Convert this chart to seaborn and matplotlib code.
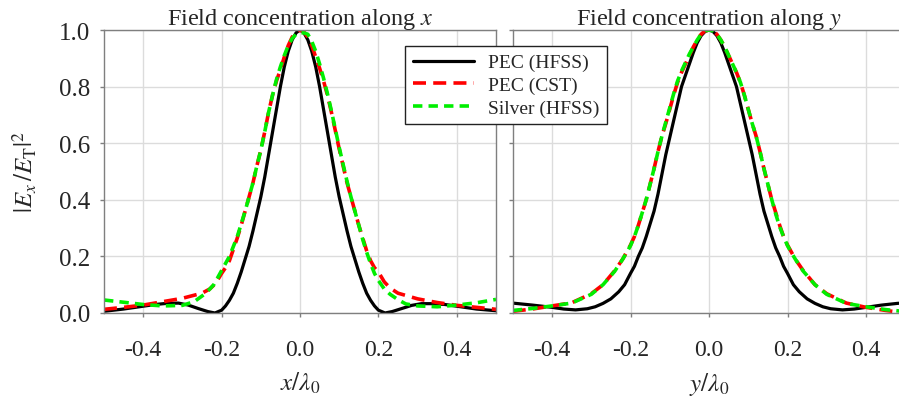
import numpy as np
import pandas as pd
import seaborn as sns
import matplotlib
matplotlib.use("Agg")
import matplotlib.pyplot as plt
from matplotlib.ticker import FormatStrFormatter

# ---------------- data ----------------
# Panel 1: along x
x_pec_hfss = [-0.5, -0.45, -0.4, -0.37, -0.34, -0.31, -0.285, -0.26, -0.235, -0.217, -0.2,
              -0.19, -0.18, -0.17, -0.16, -0.15, -0.14, -0.13, -0.12, -0.11, -0.1, -0.09,
              -0.08, -0.07, -0.06, -0.05, -0.04, -0.03, -0.02, -0.01, 0.0,
              0.01, 0.02, 0.03, 0.04, 0.05, 0.06, 0.07, 0.08, 0.09, 0.1, 0.11, 0.12,
              0.13, 0.14, 0.15, 0.16, 0.17, 0.18, 0.19, 0.2, 0.217, 0.235, 0.26, 0.285,
              0.31, 0.34, 0.37, 0.4, 0.45, 0.5]
v_pec_hfss_x = [0.006, 0.014, 0.024, 0.03, 0.034, 0.035, 0.028, 0.016, 0.005, 0.0, 0.01,
                0.025, 0.045, 0.07, 0.105, 0.145, 0.19, 0.235, 0.29, 0.35, 0.41, 0.48,
                0.56, 0.64, 0.72, 0.8, 0.87, 0.925, 0.965, 0.99, 1.0,
                0.99, 0.965, 0.925, 0.87, 0.8, 0.72, 0.64, 0.56, 0.48, 0.41, 0.35, 0.29,
                0.235, 0.19, 0.145, 0.105, 0.07, 0.045, 0.025, 0.01, 0.0, 0.005, 0.016, 0.027,
                0.033, 0.033, 0.03, 0.024, 0.014, 0.008]

x_pec_cst = [-0.5, -0.45, -0.4, -0.35, -0.3, -0.25, -0.23, -0.215, -0.2, -0.19, -0.18, -0.17,
             -0.16, -0.15, -0.14, -0.13, -0.12, -0.11, -0.1, -0.09, -0.08, -0.07, -0.06,
             -0.05, -0.04, -0.03, -0.02, -0.01, 0.0, 0.01, 0.02, 0.03, 0.04, 0.05, 0.06,
             0.07, 0.08, 0.09, 0.1, 0.11, 0.12, 0.13, 0.14, 0.15, 0.16, 0.17, 0.18, 0.19,
             0.2, 0.215, 0.23, 0.25, 0.3, 0.35, 0.4, 0.45, 0.5]
v_pec_cst_x = [0.013, 0.02, 0.028, 0.04, 0.052, 0.07, 0.085, 0.105, 0.14, 0.16, 0.185, 0.225,
               0.265, 0.31, 0.36, 0.41, 0.46, 0.52, 0.575, 0.64, 0.71, 0.77, 0.82,
               0.86, 0.905, 0.945, 0.975, 0.993, 1.0, 0.993, 0.975, 0.945, 0.905, 0.865, 0.82,
               0.77, 0.71, 0.645, 0.58, 0.52, 0.46, 0.41, 0.36, 0.31, 0.265, 0.22, 0.185, 0.16,
               0.145, 0.11, 0.088, 0.07, 0.05, 0.037, 0.027, 0.02, 0.013]

x_silver = [-0.5, -0.45, -0.4, -0.35, -0.3, -0.27, -0.24, -0.22, -0.2, -0.19, -0.18, -0.17,
            -0.16, -0.15, -0.14, -0.13, -0.12, -0.11, -0.1, -0.09, -0.08, -0.07, -0.06,
            -0.05, -0.04, -0.03, -0.02, -0.01, 0.0, 0.01, 0.02, 0.03, 0.04, 0.05, 0.06,
            0.07, 0.08, 0.09, 0.1, 0.11, 0.12, 0.13, 0.14, 0.15, 0.16, 0.17, 0.18, 0.19,
            0.2, 0.215, 0.23, 0.25, 0.27, 0.3, 0.35, 0.4, 0.45, 0.5]
v_silver_x = [0.046, 0.038, 0.03, 0.025, 0.027, 0.04, 0.07, 0.1, 0.15, 0.175, 0.2, 0.235,
              0.27, 0.315, 0.36, 0.41, 0.46, 0.52, 0.575, 0.64, 0.71, 0.77, 0.825,
              0.87, 0.91, 0.945, 0.97, 0.985, 0.99, 0.99, 0.985, 0.96, 0.925, 0.88, 0.83,
              0.775, 0.715, 0.65, 0.585, 0.525, 0.465, 0.41, 0.36, 0.31, 0.26, 0.215, 0.175, 0.14,
              0.115, 0.085, 0.066, 0.047, 0.032, 0.025, 0.022, 0.028, 0.036, 0.048]

# Panel 2: along y
y_pec_hfss = [-0.5, -0.45, -0.4, -0.37, -0.34, -0.31, -0.29, -0.27, -0.25, -0.23, -0.215,
              -0.2, -0.19, -0.18, -0.17, -0.16, -0.15, -0.14, -0.13, -0.12, -0.11, -0.1,
              -0.09, -0.08, -0.07, -0.06, -0.05, -0.04, -0.03, -0.02, -0.01, 0.0,
              0.01, 0.02, 0.03, 0.04, 0.05, 0.06, 0.07, 0.08, 0.09, 0.1, 0.11, 0.12,
              0.13, 0.14, 0.15, 0.16, 0.17, 0.18, 0.19, 0.2, 0.215, 0.23, 0.25, 0.27,
              0.29, 0.31, 0.34, 0.37, 0.4, 0.44, 0.48, 0.5]
v_pec_hfss_y = [0.035, 0.028, 0.02, 0.014, 0.011, 0.015, 0.022, 0.034, 0.05, 0.075, 0.1,
                0.14, 0.165, 0.2, 0.23, 0.27, 0.315, 0.36, 0.42, 0.49, 0.56, 0.62,
                0.68, 0.74, 0.8, 0.84, 0.88, 0.92, 0.955, 0.98, 0.995, 1.0,
                0.995, 0.98, 0.955, 0.92, 0.88, 0.84, 0.8, 0.74, 0.68, 0.62, 0.56, 0.49,
                0.42, 0.36, 0.315, 0.27, 0.23, 0.2, 0.165, 0.14, 0.1, 0.075, 0.05, 0.034,
                0.022, 0.015, 0.011, 0.014, 0.02, 0.028, 0.034, 0.036]

y_pec_cst = [-0.5, -0.45, -0.4, -0.35, -0.3, -0.27, -0.24, -0.22, -0.21, -0.2, -0.19, -0.18,
             -0.17, -0.16, -0.15, -0.14, -0.13, -0.12, -0.11, -0.1, -0.09, -0.08, -0.07,
             -0.06, -0.05, -0.04, -0.03, -0.02, -0.01, 0.0, 0.01, 0.02, 0.03, 0.04, 0.05,
             0.06, 0.07, 0.08, 0.09, 0.1, 0.11, 0.12, 0.13, 0.14, 0.15, 0.16, 0.17, 0.18,
             0.19, 0.2, 0.21, 0.22, 0.24, 0.27, 0.3, 0.35, 0.4, 0.45, 0.5]
v_pec_cst_y = [0.006, 0.014, 0.025, 0.036, 0.068, 0.1, 0.15, 0.19, 0.215, 0.24, 0.27, 0.31,
               0.355, 0.4, 0.455, 0.51, 0.57, 0.625, 0.67, 0.72, 0.77, 0.815, 0.85,
               0.88, 0.91, 0.94, 0.965, 0.985, 0.997, 1.0, 0.997, 0.985, 0.965, 0.94, 0.91,
               0.88, 0.85, 0.815, 0.77, 0.72, 0.67, 0.625, 0.57, 0.51, 0.455, 0.4, 0.355, 0.31,
               0.27, 0.24, 0.215, 0.19, 0.15, 0.1, 0.068, 0.035, 0.02, 0.009, 0.0]

y_silver = [-0.5, -0.45, -0.4, -0.35, -0.3, -0.27, -0.24, -0.22, -0.21, -0.2, -0.19, -0.18,
            -0.17, -0.16, -0.15, -0.14, -0.13, -0.12, -0.11, -0.1, -0.09, -0.08, -0.07,
            -0.06, -0.05, -0.04, -0.03, -0.02, -0.01, 0.0, 0.01, 0.02, 0.03, 0.04, 0.05,
            0.06, 0.07, 0.08, 0.09, 0.1, 0.11, 0.12, 0.13, 0.14, 0.15, 0.16, 0.17, 0.18,
            0.19, 0.2, 0.21, 0.22, 0.24, 0.27, 0.3, 0.35, 0.4, 0.45, 0.5]
v_silver_y = [0.009, 0.016, 0.025, 0.035, 0.066, 0.1, 0.148, 0.19, 0.213, 0.238, 0.27, 0.31,
              0.355, 0.4, 0.455, 0.51, 0.57, 0.625, 0.675, 0.725, 0.775, 0.82, 0.855,
              0.885, 0.915, 0.94, 0.965, 0.985, 0.997, 1.0, 0.997, 0.985, 0.965, 0.94, 0.91,
              0.88, 0.85, 0.815, 0.77, 0.72, 0.67, 0.625, 0.57, 0.51, 0.455, 0.4, 0.35, 0.305,
              0.27, 0.238, 0.213, 0.19, 0.148, 0.1, 0.066, 0.034, 0.022, 0.012, 0.005]

labels = ["PEC (HFSS)", "PEC (CST)", "Silver (HFSS)"]
titles = [r"Field concentration along $x$", r"Field concentration along $y$"]
xlabels = [r"$x/\lambda_0$", r"$y/\lambda_0$"]
ylabel = r"$|E_x\,/E_{\mathrm{T}}|^2$"
xticks = [-0.4, -0.2, 0.0, 0.2, 0.4]
yticks = [0.0, 0.2, 0.4, 0.6, 0.8, 1.0]

# ---------------- style ----------------
sns.set_theme(style="whitegrid")
plt.rcParams["font.family"] = ["Liberation Serif", "DejaVu Serif"]
plt.rcParams["mathtext.fontset"] = "stix"
plt.rcParams["axes.unicode_minus"] = False

fig = plt.figure(figsize=(8.99, 4.02), dpi=100)
ax1 = fig.add_axes([104 / 899, 88 / 402, 392 / 899, 283 / 402])
ax2 = fig.add_axes([512.75 / 899, 88 / 402, 392.5 / 899, 283 / 402])

panels = [
    (ax1, (x_pec_hfss, v_pec_hfss_x), (x_pec_cst, v_pec_cst_x), (x_silver, v_silver_x)),
    (ax2, (y_pec_hfss, v_pec_hfss_y), (y_pec_cst, v_pec_cst_y), (y_silver, v_silver_y)),
]

for i, (ax, s1, s2, s3) in enumerate(panels):
    sns.lineplot(x=s1[0], y=s1[1], ax=ax, label=labels[0], color="black", lw=2.3)
    sns.lineplot(x=s2[0], y=s2[1], ax=ax, label=labels[1], color="#ff0000", lw=2.6)
    ax.lines[-1].set_dashes((3.6, 2.0))
    sns.lineplot(x=s3[0], y=s3[1], ax=ax, label=labels[2], color="#00ee00", lw=2.6)
    ax.lines[-1].set_dashes((2.6, 1.7))

    ax.set_xlim(-0.5, 0.5)
    ax.set_ylim(0.0, 1.0)
    ax.set_xticks(xticks)
    ax.set_yticks(yticks)
    ax.xaxis.set_major_formatter(FormatStrFormatter("%.1f"))
    ax.yaxis.set_major_formatter(FormatStrFormatter("%.1f"))
    ax.grid(True, color="#dcdcdc", lw=1.0)
    for sp in ax.spines.values():
        sp.set_color("#7f7f7f")
        sp.set_linewidth(1.0)
    ax.tick_params(axis="x", direction="out", length=3, width=1, color="#7f7f7f",
                   pad=16, labelsize=17, bottom=True)
    ax.tick_params(axis="y", direction="out", length=3, width=1, color="#7f7f7f",
                   pad=7, labelsize=18, left=True)
    ax.set_title(titles[i], fontsize=17.5, pad=4)
    ax.set_xlabel(xlabels[i], fontsize=18, labelpad=7)
    ax.get_legend().remove()
    ax.set_facecolor("white")

ax1.set_ylabel(ylabel, fontsize=18)
ax1.yaxis.set_label_coords(-0.165, 0.5)
ax2.set_ylabel("")
ax2.tick_params(axis="y", labelleft=False)

handles, lbls = ax1.get_legend_handles_labels()
leg = fig.legend(handles, lbls, loc="upper left",
                 bbox_to_anchor=(405 / 899, 1 - 47 / 402),
                 fontsize=14, frameon=True, fancybox=False, shadow=False,
                 handlelength=3.15, handletextpad=0.72, labelspacing=0.25,
                 borderpad=0.4, borderaxespad=0.0)
leg.get_frame().set_edgecolor("#222222")
leg.get_frame().set_linewidth(1.0)
leg.get_frame().set_alpha(1.0)

fig.savefig("out.png", dpi=100, facecolor="white")
